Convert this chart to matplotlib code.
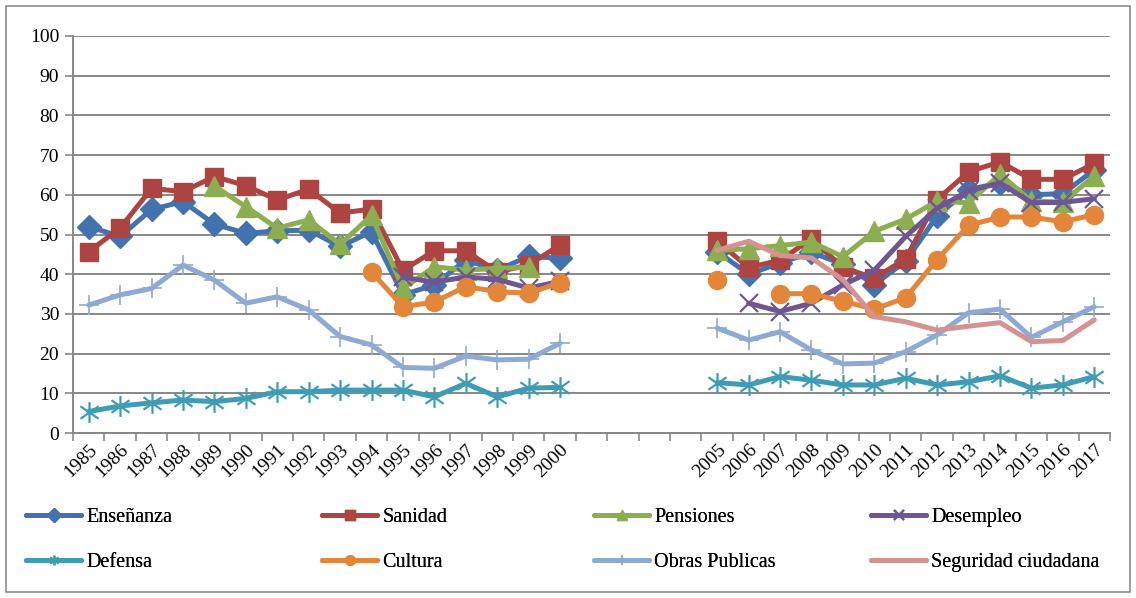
import numpy as np
import matplotlib
matplotlib.use("Agg")
import matplotlib.pyplot as plt
from matplotlib.path import Path
from matplotlib.lines import Line2D
from matplotlib.patches import Rectangle

nan = np.nan

# Category axis: 1985-2000, four empty slots (2001-2004), 2005-2017
years_a = list(range(1985, 2001))
years_b = list(range(2005, 2018))
categories = [str(y) for y in years_a] + ["", "", "", ""] + [str(y) for y in years_b]
gap = [nan] * 4

ensenanza = [52, 49.5, 56.3, 58.3, 52.6, 50.3, 50.9, 51.1, 47, 50.7, 34.8, 37.3, 43.6, 41, 44.5, 44] + gap + \
            [45.7, 40, 42.8, 45.5, 42.5, 37.4, 43.3, 54.7, 61.3, 63, 60, 60.3, 66.3]
sanidad = [45.7, 51.6, 61.6, 60.8, 64.6, 62.3, 58.7, 61.4, 55.4, 56.4, 41, 45.9, 45.9, 40.6, 42.3, 47.4] + gap + \
          [48.3, 41.7, 43.5, 48.9, 41.7, 39, 43.9, 58.8, 65.8, 68.3, 63.9, 63.9, 67.9]
pensiones = [nan, nan, nan, nan, 62.2, 57, 51.6, 53.7, 47.5, 54.8, 36.4, 41.9, 41, 41.5, 41.7, nan] + gap + \
            [46, 46.4, 47.2, 48.1, 44.4, 50.8, 53.9, 58.4, 58, 65.2, 58.4, 58.2, 64.7]
desempleo = [nan] * 10 + [39.2, 38, 39.3, 38.7, 36.5, 38.2] + gap + \
            [nan, 32.7, 30.6, 32.7, 37.3, 41, 49.5, 56.6, 61, 63, 58, 58.1, 59]
defensa = [5.4, 6.8, 7.6, 8.3, 7.9, 8.7, 10.4, 10.4, 10.8, 10.8, 10.8, 9.1, 12.5, 9.1, 11.3, 11.5] + gap + \
          [12.7, 12.1, 14.2, 13.3, 12.1, 12.1, 13.8, 12.1, 12.9, 14.4, 11.3, 12.1, 14.2]
cultura = [nan] * 9 + [40.6, 31.8, 33, 36.9, 35.6, 35.2, 37.9] + gap + \
          [38.6, nan, 35.1, 35.1, 33.2, 31.2, 34.1, 43.7, 52.3, 54.4, 54.4, 53.2, 55]
obras = [32.2, 34.8, 36.4, 42.3, 38.5, 32.7, 34.3, 31, 24.3, 22.2, 16.5, 16.3, 19.4, 18.4, 18.6, 22.6] + gap + \
        [26.4, 23.4, 25.5, 20.9, 17.4, 17.6, 20.5, 24.7, 30.3, 31.2, 24.1, 28, 31.8]
seguridad = [nan] * 16 + gap + \
            [46, 48.3, 44.7, 44.1, 38.6, 29.3, 28, 25.9, 26.9, 27.8, 23, 23.3, 28.5]

series_names = ["Enseñanza", "Sanidad", "Pensiones", "Desempleo",
                "Defensa", "Cultura", "Obras Publicas", "Seguridad ciudadana"]

# six-armed asterisk marker (vertical bar plus an X)
ast = Path([(0, -1), (0, 1), (-0.87, -0.6), (0.87, 0.6), (-0.87, 0.6), (0.87, -0.6)],
           [Path.MOVETO, Path.LINETO, Path.MOVETO, Path.LINETO, Path.MOVETO, Path.LINETO])

styles = [
    dict(color="#4273AF", marker="D", ms=12),
    dict(color="#AE4441", marker="s", ms=13),
    dict(color="#8DAE50", marker="^", ms=14),
    dict(color="#6F5693", marker="x", ms=13, mew=1.6),
    dict(color="#3E9CB5", marker=ast, ms=15, mew=1.6, mfc="none"),
    dict(color="#E3863A", marker="o", ms=13),
    dict(color="#8FAAD2", marker="+", ms=15, mew=1.2),
    dict(color="#D49291", marker=None),
]

plt.rcParams["font.family"] = ["Liberation Serif", "DejaVu Serif"]

W, H = 1136, 598
fig = plt.figure(figsize=(W / 100, H / 100), dpi=100)
fig.patch.set_facecolor("white")

L, R, T, B = 73, 1110, 36, 433
ax = fig.add_axes([L / W, 1 - B / H, (R - L) / W, (B - T) / H])

x = np.arange(len(categories))
data = [ensenanza, sanidad, pensiones, desempleo, defensa, cultura, obras, seguridad]
handles = []
for name, vals, st in zip(series_names, data, styles):
    st = dict(st)
    color = st.pop("color")
    ax.plot(x, np.array(vals, dtype=float), color=color, mec=color, lw=3.6, label=name,
            solid_joinstyle="round", solid_capstyle="round", **st)
    leg_st = dict(st)
    if leg_st.get("marker") is not None:
        leg_st["ms"] = 7
    handles.append(Line2D([], [], color=color, mec=color, lw=3.6,
                          solid_capstyle="round", **leg_st))

ax.set_xlim(-0.5, len(categories) - 0.5)
ax.set_ylim(0, 100)
ax.set_yticks(np.arange(0, 101, 10))
ax.yaxis.grid(True, color="#878787", lw=1.4)
ax.set_axisbelow(True)

ax.set_xticks(np.arange(-0.5, len(categories), 1.0))
ax.set_xticklabels([])
ax.set_xticks(x, minor=True)
ax.set_xticklabels(categories, minor=True, rotation=45, ha="right", va="top",
                   rotation_mode="anchor", fontsize=14)
ax.tick_params(axis="x", which="major", length=6, width=1.2, color="#878787", direction="out")
ax.tick_params(axis="x", which="minor", length=0, pad=6)
ax.tick_params(axis="y", length=6, width=1.2, color="#878787", labelsize=14, pad=4)

for side in ["top", "right"]:
    ax.spines[side].set_visible(False)
for side in ["left", "bottom"]:
    ax.spines[side].set_color("#878787")
    ax.spines[side].set_linewidth(1.4)

# legend: two rows, four columns, each column placed on its own
col_x = [25, 321, 593, 870]
for c in range(4):
    idx = [c, c + 4]
    lg = fig.legend([handles[i] for i in idx], [series_names[i] for i in idx],
                    loc="upper left", bbox_to_anchor=((col_x[c] - 3) / W, 1 - 504 / H),
                    frameon=False, fontsize=14.5, handlelength=2.75,
                    handletextpad=0.25, labelspacing=1.3, borderaxespad=0,
                    borderpad=0.2)
    fig.add_artist(lg)

fig.add_artist(Rectangle((6 / W, 6 / H), 1 - 12 / W, 1 - 12 / H, transform=fig.transFigure,
                         fill=False, edgecolor="#8C8C8C", lw=1.2))

fig.savefig("out.png", dpi=100, facecolor="white")
